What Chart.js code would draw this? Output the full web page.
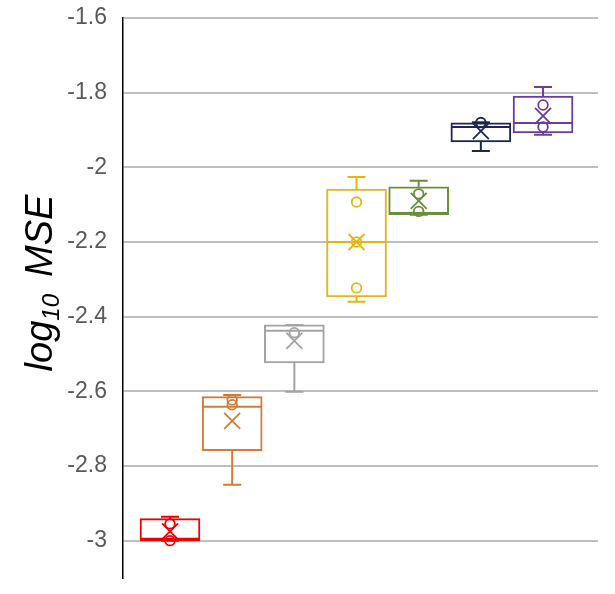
<!DOCTYPE html>
<html><head><meta charset="utf-8">
<script src="https://cdn.jsdelivr.net/npm/chart.js@4.4.1/dist/chart.umd.min.js"></script>
<style>html,body{margin:0;padding:0;background:#fff}#wrap{width:615px;height:594px}</style>
</head><body><div id="wrap"><canvas id="c" width="615" height="594"></canvas></div>
<script>
// ---- data ----
const boxPositions = [0, 1, 2, 3, 4, 5, 6];
const boxColors   = ['#ee0000', '#d67a35', '#a3a3a3', '#e3b616', '#6a8f3a', '#1c2650', '#6a3d9e'];
const minValues    = [-3.000, -2.850, -2.601, -2.360, -2.127, -1.956, -1.913];
const q1Values     = [-3.000, -2.759, -2.524, -2.347, -2.127, -1.932, -1.908];
const medianValues = [-2.995, -2.641, -2.438, -2.200, -2.122, -1.892, -1.881];
const q3Values     = [-2.941, -2.614, -2.422, -2.058, -2.052, -1.881, -1.809];
const maxValues    = [-2.936, -2.610, -2.422, -2.026, -2.036, -1.879, -1.785];
const meanValues   = [-2.975, -2.679, -2.465, -2.200, -2.090, -1.903, -1.862];
const pointValues  = [
  [-2.955, -3.000],
  [-2.623, -2.636],
  [-2.443],
  [-2.093, -2.200, -2.323],
  [-2.071, -2.118],
  [-1.880],
  [-1.833, -1.892]
];
const yTickValues = [-3, -2.8, -2.6, -2.4, -2.2, -2, -1.8, -1.6];
const yTickLabels = ['-3', '-2.8', '-2.6', '-2.4', '-2.2', '-2', '-1.8', '-1.6'];
const titleMain = 'log';
const titleSub = '10';
const titleRest = 'MSE';

const boxExtras = {
  id: 'boxExtras',
  afterDatasetsDraw(chart) {
    const { ctx, scales: { x, y } } = chart;
    const meta = chart.getDatasetMeta(0);
    boxPositions.forEach((p, i) => {
      const bar = meta.data[i];
      const cx = x.getPixelForValue(p);
      const half = bar.width / 2;
      const capHalf = 9;
      const col = boxColors[i];
      const pMax = y.getPixelForValue(maxValues[i]);
      const pQ3 = y.getPixelForValue(q3Values[i]);
      const pQ1 = y.getPixelForValue(q1Values[i]);
      const pMin = y.getPixelForValue(minValues[i]);
      const pMed = y.getPixelForValue(medianValues[i]);
      ctx.save();
      ctx.strokeStyle = col;
      ctx.lineWidth = 2;
      ctx.beginPath();
      ctx.moveTo(cx, pQ3); ctx.lineTo(cx, pMax);
      ctx.moveTo(cx - capHalf, pMax); ctx.lineTo(cx + capHalf, pMax);
      ctx.moveTo(cx, pQ1); ctx.lineTo(cx, pMin);
      ctx.moveTo(cx - capHalf, pMin); ctx.lineTo(cx + capHalf, pMin);
      ctx.stroke();
      ctx.beginPath();
      ctx.moveTo(cx - half + 1, pMed); ctx.lineTo(cx + half - 1, pMed);
      ctx.stroke();
      ctx.lineWidth = 1.8;
      pointValues[i].forEach(v => {
        ctx.beginPath();
        ctx.arc(cx, y.getPixelForValue(v), 4.8, 0, Math.PI * 2);
        ctx.stroke();
      });
      const pm = y.getPixelForValue(meanValues[i]);
      const s = 8;
      ctx.beginPath();
      ctx.moveTo(cx - s, pm - s); ctx.lineTo(cx + s, pm + s);
      ctx.moveTo(cx + s, pm - s); ctx.lineTo(cx - s, pm + s);
      ctx.stroke();
      ctx.restore();
    });
  },
  afterDraw(chart) {
    const ctx = chart.ctx;
    const F = 38;
    ctx.save();
    ctx.translate(38, 283);
    ctx.rotate(-Math.PI / 2);
    ctx.fillStyle = '#000';
    ctx.textBaseline = 'alphabetic';
    ctx.textAlign = 'left';
    const fMain = 'italic ' + F + 'px "Liberation Sans"';
    const fSub = 'italic ' + Math.round(F * 0.62) + 'px "Liberation Sans"';
    ctx.font = fMain; const w1 = ctx.measureText(titleMain).width;
    ctx.font = fSub; const w2 = ctx.measureText(titleSub).width;
    ctx.font = fMain; const gap = F * 0.45; const w3 = ctx.measureText(titleRest).width;
    const total = w1 + w2 + gap + w3;
    let xx = -total / 2;
    const base = F * 0.36;
    ctx.font = fMain; ctx.fillText(titleMain, xx, base); xx += w1;
    ctx.font = fSub; ctx.fillText(titleSub, xx, base + F * 0.2); xx += w2 + gap;
    ctx.font = fMain; ctx.fillText(titleRest, xx, base);
    ctx.restore();
  }
};

new Chart(document.getElementById('c'), {
  type: 'bar',
  data: {
    datasets: [{
      data: boxPositions.map((p, i) => ({ x: p, y: [q1Values[i], q3Values[i]] })),
      backgroundColor: '#ffffff',
      borderColor: boxColors,
      borderWidth: 2,
      borderSkipped: false,
      barThickness: 60
    }]
  },
  options: {
    responsive: false,
    devicePixelRatio: 1,
    animation: false,
    events: [],
    layout: { padding: { left: 0, right: 17, top: 18, bottom: 16 } },
    plugins: { legend: { display: false }, tooltip: { enabled: false } },
    scales: {
      x: { type: 'linear', min: -0.756, max: 6.884, display: false, offset: false },
      y: {
        min: -3.1, max: -1.6,
        afterBuildTicks: s => { s.ticks = yTickValues.map(v => ({ value: v })); },
        afterFit: s => { s.width = 123; s.paddingTop = 0; s.paddingBottom = 0; },
        ticks: {
          callback: v => yTickLabels[yTickValues.indexOf(v)],
          color: '#595959',
          font: { family: 'Liberation Sans', size: 23 },
          padding: 16
        },
        grid: { color: '#bfbfbf', lineWidth: 2, drawTicks: false },
        border: { color: '#000000', width: 1.5 }
      }
    }
  },
  plugins: [boxExtras]
});
</script>
</body></html>
